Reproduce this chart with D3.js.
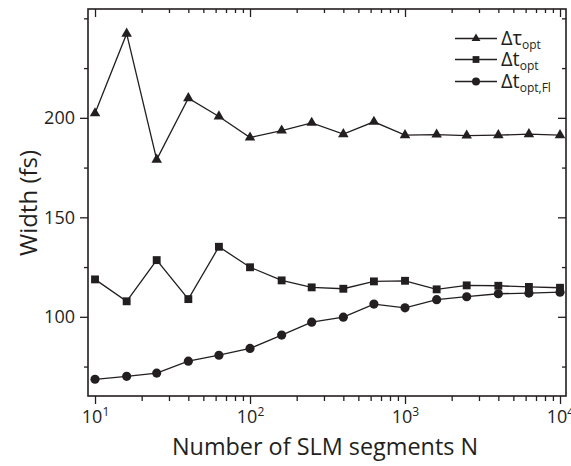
<!DOCTYPE html>
<html>
<head>
<meta charset="utf-8">
<script src="https://cdn.jsdelivr.net/npm/d3@7"></script>
<style>
  html, body { margin: 0; padding: 0; background: #fff; }
  svg { display: block; }
  text { font-family: "Open Sans", "Noto Sans", sans-serif; fill: #231f20; }
</style>
</head>
<body>
<svg id="chart" width="571" height="466"></svg>
<script>
// Number of SLM segments
const segments = [10, 16, 25, 40, 63, 100, 160, 250, 400, 630, 1000, 1600, 2500, 4000, 6300, 10000];
// Widths in fs
const tauOpt   = [202.3, 242.3, 179.0, 209.9, 200.7, 190.1, 193.6, 197.5, 191.8, 198.0, 191.3, 191.6, 191.1, 191.3, 191.8, 191.3];
const tOpt     = [118.8, 107.8, 128.5, 108.9, 135.2, 124.9, 118.3, 114.8, 114.1, 117.8, 118.1, 113.8, 115.8, 115.6, 115.0, 114.6];
const tOptFl   = [68.6, 70.1, 71.7, 77.7, 80.7, 84.1, 90.8, 97.3, 99.8, 106.4, 104.5, 108.6, 110.1, 111.6, 111.9, 112.4];

const yMajor = [100, 150, 200];
const yMinor = [75, 125, 175, 225, 250];
const xMajor = [10, 100, 1000, 10000];

const INK = "#231f20";
const svg = d3.select("#chart");
const L = 88, R = 566, T = 9, B = 396;

const x = d3.scaleLog().domain([9.01, 10930]).range([L, R]);
const y = d3.scaleLinear().domain([60.2, 254.7]).range([B, T]);

// minor log ticks 2..9 per decade
const xMinor = [];
for (let e = 1; e <= 4; e++) for (let m = 2; m <= 9; m++) {
  const v = m * Math.pow(10, e);
  if (v <= 10930) xMinor.push(v);
}

function styleAxis(g) {
  g.select(".domain").remove();
  g.selectAll("line").attr("stroke", INK).attr("stroke-width", 1.3);
}

// bottom axis (outward)
svg.append("g").attr("transform", `translate(0,${B})`)
  .call(d3.axisBottom(x).tickValues(xMinor).tickSize(5).tickFormat(""))
  .call(styleAxis);
const xb = svg.append("g").attr("transform", `translate(0,${B})`)
  .call(d3.axisBottom(x).tickValues(xMajor).tickSize(8).tickPadding(6).tickFormat(""))
  .call(styleAxis);
xb.selectAll(".tick text").each(function(d) {
  const t = d3.select(this).attr("font-size", 18).attr("fill", INK).attr("dy", "0.71em");
  t.append("tspan").text("10");
  t.append("tspan").attr("font-size", 12).attr("dy", "-0.55em").text(Math.round(Math.log10(d)));
});
// top axis (inward)
svg.append("g").attr("transform", `translate(0,${T})`)
  .call(d3.axisBottom(x).tickValues(xMinor).tickSize(4).tickFormat(""))
  .call(styleAxis);
svg.append("g").attr("transform", `translate(0,${T})`)
  .call(d3.axisBottom(x).tickValues(xMajor).tickSize(8).tickFormat(""))
  .call(styleAxis);

// left axis (outward)
svg.append("g").attr("transform", `translate(${L},0)`)
  .call(d3.axisLeft(y).tickValues(yMinor).tickSize(4).tickFormat(""))
  .call(styleAxis);
svg.append("g").attr("transform", `translate(${L},0)`)
  .call(d3.axisLeft(y).tickValues(yMajor).tickSize(8).tickPadding(5).tickFormat(d3.format("d")))
  .call(styleAxis)
  .selectAll("text").attr("font-size", 18).attr("fill", INK)
  .attr("font-family", "'Open Sans', sans-serif");
// right axis (inward)
svg.append("g").attr("transform", `translate(${R},0)`)
  .call(d3.axisLeft(y).tickValues(yMinor).tickSize(4).tickFormat(""))
  .call(styleAxis);
svg.append("g").attr("transform", `translate(${R},0)`)
  .call(d3.axisLeft(y).tickValues(yMajor).tickSize(8).tickFormat(""))
  .call(styleAxis);

// frame
svg.append("rect").attr("x", L).attr("y", T).attr("width", R - L).attr("height", B - T)
  .attr("fill", "none").attr("stroke", INK).attr("stroke-width", 1.6);

// series
const series = [
  { values: tauOpt, symbol: d3.symbolTriangle, size: 48, legSize: 34, main: "Δτ", sub: "opt" },
  { values: tOpt,   symbol: d3.symbolSquare,   size: 62, legSize: 46, main: "Δt", sub: "opt" },
  { values: tOptFl, symbol: d3.symbolCircle,   size: 66, legSize: 50, main: "Δt", sub: "opt,Fl" }
];

const line = d3.line().x(d => x(d[0])).y(d => y(d[1]));
series.forEach(s => {
  const pts = segments.map((n, i) => [n, s.values[i]]);
  svg.append("path").datum(pts).attr("d", line)
    .attr("fill", "none").attr("stroke", INK).attr("stroke-width", 1.3);
  svg.append("g").selectAll("path").data(pts).join("path")
    .attr("transform", d => `translate(${x(d[0])},${y(d[1])})`)
    .attr("d", d3.symbol(s.symbol, s.size))
    .attr("fill", INK);
});

// legend
const legY = [38.5, 59.5, 81.5];
series.forEach((s, i) => {
  const g = svg.append("g").attr("transform", `translate(0,${legY[i]})`);
  g.append("line").attr("x1", 455).attr("x2", 497).attr("y1", 0).attr("y2", 0)
    .attr("stroke", INK).attr("stroke-width", 1.3);
  g.append("path").attr("transform", "translate(476,0)")
    .attr("d", d3.symbol(s.symbol, s.legSize)).attr("fill", INK);
  const t = g.append("text").attr("x", 501).attr("y", 6).attr("font-size", 20);
  t.append("tspan").text(s.main);
  t.append("tspan").attr("font-size", 12).attr("dy", 4).text(s.sub);
});

// axis titles
svg.append("text").attr("x", 325).attr("y", 455).attr("text-anchor", "middle")
  .attr("font-size", 23.4).text("Number of SLM segments N");
svg.append("text").attr("transform", "translate(37,203) rotate(-90)")
  .attr("text-anchor", "middle").attr("font-size", 24).text("Width (fs)");
</script>
</body>
</html>
